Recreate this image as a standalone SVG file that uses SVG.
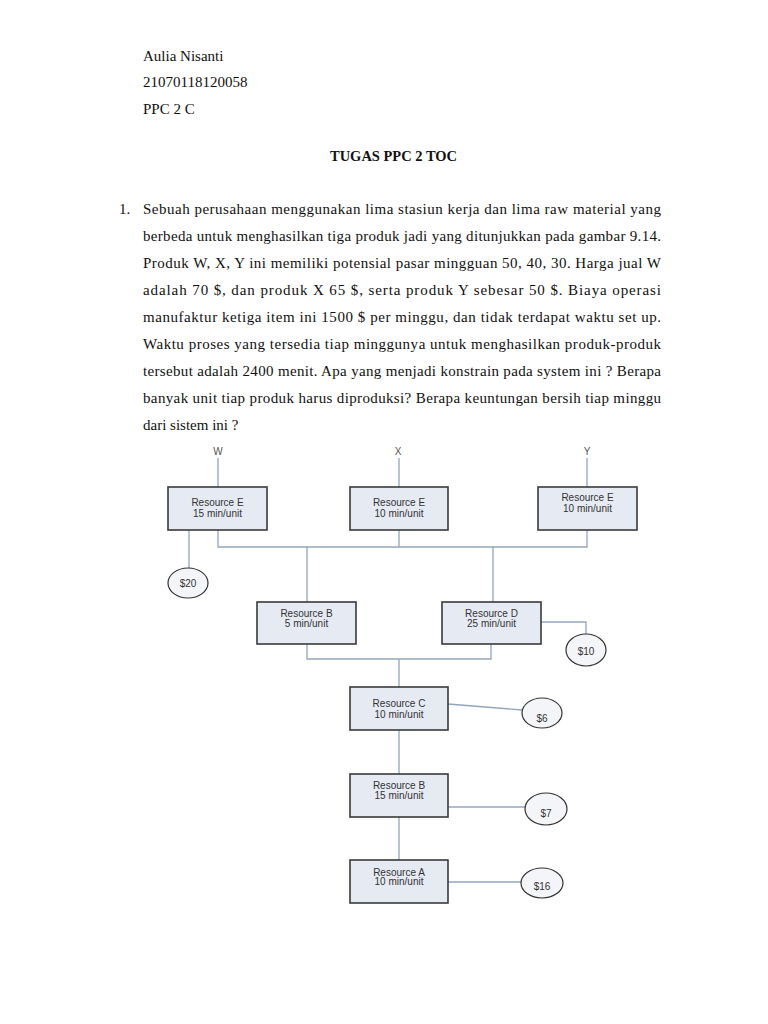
<svg xmlns="http://www.w3.org/2000/svg" width="768" height="1024" viewBox="0 0 768 1024">
<style>
.t{font-family:"Liberation Serif","Times New Roman",serif;font-size:15px;fill:#111}
.h{font-family:"Liberation Serif","Times New Roman",serif;font-size:15px;fill:#111}
.b{font-family:"Liberation Serif","Times New Roman",serif;font-size:14px;font-weight:bold;fill:#111}
.box{fill:#e6eaf3;stroke:#3a3a3a;stroke-width:1.6}
.bl{font-family:"Liberation Sans",Arial,sans-serif;font-size:10px;fill:#333;text-anchor:middle}
.lab{font-family:"Liberation Sans",Arial,sans-serif;font-size:10px;fill:#555;text-anchor:middle}
.cir{fill:#f4f5f8;stroke:#333;stroke-width:1.2}
.ln{fill:none;stroke:#93a6c0;stroke-width:1.3}
</style>
<rect width="768" height="1024" fill="#ffffff"/>
<g id="header">
<text class="h" x="143" y="61">Aulia Nisanti</text>
<text class="h" x="143" y="87">21070118120058</text>
<text class="h" x="143" y="114">PPC 2 C</text>
<text class="b" x="330" y="161" textLength="127" lengthAdjust="spacingAndGlyphs">TUGAS PPC 2 TOC</text>
</g>
<g id="question">
<text class="t" x="119" y="214">1.</text>
<text class="t" x="143" y="214" textLength="518" lengthAdjust="spacing">Sebuah perusahaan menggunakan lima stasiun kerja dan lima raw material yang</text>
<text class="t" x="143" y="241" textLength="518" lengthAdjust="spacing">berbeda untuk menghasilkan tiga produk jadi yang ditunjukkan pada gambar 9.14.</text>
<text class="t" x="143" y="268" textLength="518" lengthAdjust="spacing">Produk W, X, Y ini memiliki potensial pasar mingguan 50, 40, 30. Harga jual W</text>
<text class="t" x="143" y="295" textLength="518" lengthAdjust="spacing">adalah 70 $, dan produk X 65 $, serta produk Y sebesar 50 $. Biaya operasi</text>
<text class="t" x="143" y="322" textLength="518" lengthAdjust="spacing">manufaktur ketiga item ini 1500 $ per minggu, dan tidak terdapat waktu set up.</text>
<text class="t" x="143" y="349" textLength="518" lengthAdjust="spacing">Waktu proses yang tersedia tiap minggunya untuk menghasilkan produk-produk</text>
<text class="t" x="143" y="376" textLength="518" lengthAdjust="spacing">tersebut adalah 2400 menit. Apa yang menjadi konstrain pada system ini ? Berapa</text>
<text class="t" x="143" y="403" textLength="518" lengthAdjust="spacing">banyak unit tiap produk harus diproduksi? Berapa keuntungan bersih tiap minggu</text>
<text class="t" x="143" y="430">dari sistem ini ?</text>
</g>
<g id="connectors">
<path class="ln" d="M218 458V487M399 458V487M587 458V487"/>
<path class="ln" d="M218 530V547H587V530M399 530V547M307 547V602M493 547V602"/>
<path class="ln" d="M189 530V569"/>
<path class="ln" d="M541 622H586V634"/>
<path class="ln" d="M307 644V659H491V644M399 659V687"/>
<path class="ln" d="M448 704L522 710"/>
<path class="ln" d="M399 730V774M399 817V860"/>
<path class="ln" d="M448 807H525"/>
<path class="ln" d="M448 882H521"/>
</g>
<g id="labels">
<text class="lab" x="218" y="455">W</text>
<text class="lab" x="398" y="455">X</text>
<text class="lab" x="587" y="455">Y</text>
</g>
<g id="nodeE1"><rect class="box" x="168" y="487" width="99" height="43"/><text class="bl" x="217.5" y="506">Resource E</text><text class="bl" x="217.5" y="517">15 min/unit</text></g>
<g id="nodeE2"><rect class="box" x="350" y="487" width="98" height="43"/><text class="bl" x="399" y="506">Resource E</text><text class="bl" x="399" y="517">10 min/unit</text></g>
<g id="nodeE3"><rect class="box" x="538" y="487" width="99" height="43"/><text class="bl" x="587.5" y="501">Resource E</text><text class="bl" x="587.5" y="512">10 min/unit</text></g>
<g id="node20"><ellipse class="cir" cx="188" cy="583" rx="20" ry="15"/><text class="bl" x="188" y="587">$20</text></g>
<g id="nodeB5"><rect class="box" x="257" y="602" width="99" height="42"/><text class="bl" x="306.5" y="617">Resource B</text><text class="bl" x="306.5" y="627">5 min/unit</text></g>
<g id="nodeD"><rect class="box" x="442" y="602" width="99" height="42"/><text class="bl" x="491.5" y="617">Resource D</text><text class="bl" x="491.5" y="627">25 min/unit</text></g>
<g id="node10"><ellipse class="cir" cx="586" cy="650" rx="20" ry="16"/><text class="bl" x="586" y="655">$10</text></g>
<g id="nodeC"><rect class="box" x="350" y="687" width="98" height="43"/><text class="bl" x="399" y="707">Resource C</text><text class="bl" x="399" y="718">10 min/unit</text></g>
<g id="node6"><ellipse class="cir" cx="542" cy="713" rx="20" ry="15"/><text class="bl" x="542" y="722">$6</text></g>
<g id="nodeB15"><rect class="box" x="350" y="774" width="98" height="43"/><text class="bl" x="399" y="789">Resource B</text><text class="bl" x="399" y="799">15 min/unit</text></g>
<g id="node7"><ellipse class="cir" cx="546" cy="809" rx="21" ry="16"/><text class="bl" x="546" y="817">$7</text></g>
<g id="nodeA"><rect class="box" x="350" y="860" width="98" height="43"/><text class="bl" x="399" y="876">Resource A</text><text class="bl" x="399" y="885">10 min/unit</text></g>
<g id="node16"><ellipse class="cir" cx="542" cy="883" rx="21" ry="15"/><text class="bl" x="542" y="890">$16</text></g>
</svg>
